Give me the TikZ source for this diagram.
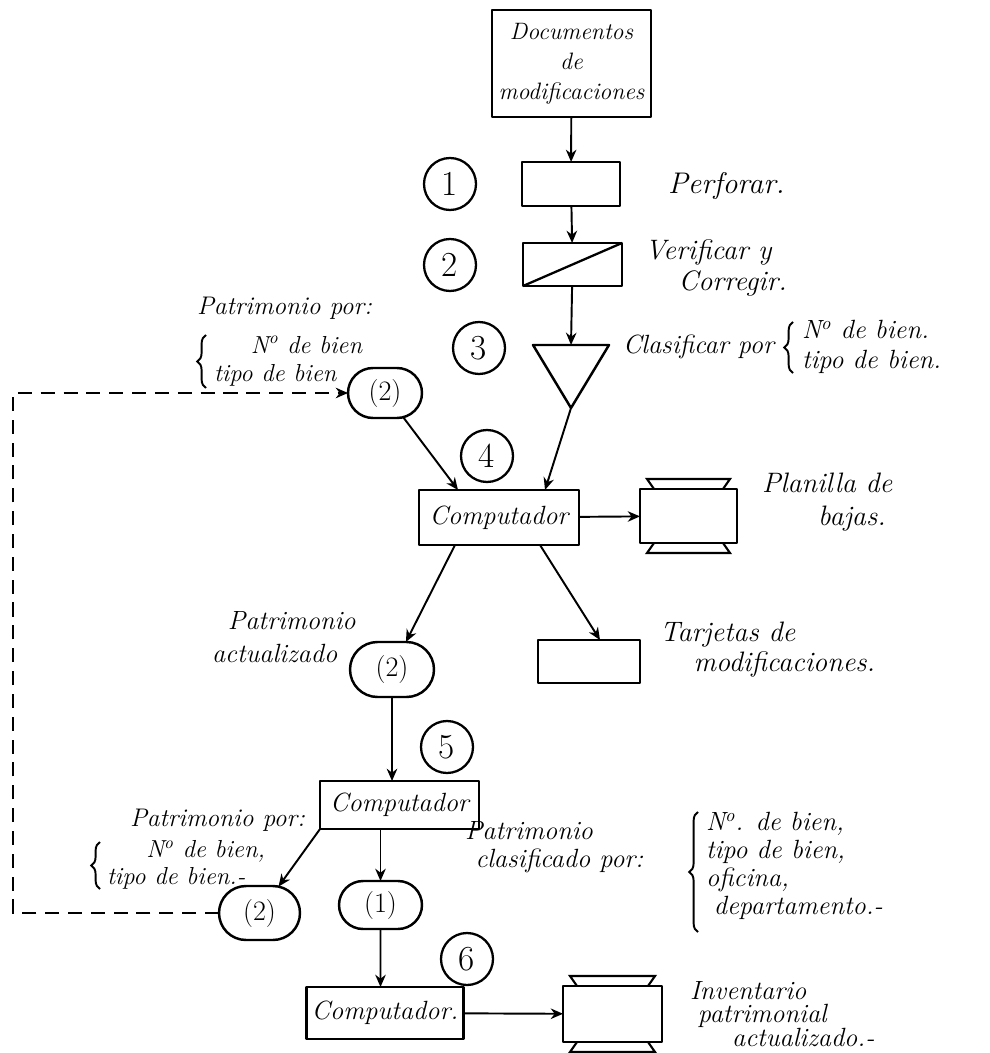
\documentclass[tikz,border=0pt]{standalone}
\usetikzlibrary{arrows.meta,calc,shapes.misc,decorations.pathreplacing}
% paper trays above and below a printer body node
\newcommand\papertrays[1]{%
  \draw[line width=1.2pt] ($(#1.north west)+(14,0)$) -- ($(#1.north west)+(7,-10)$)
    -- ($(#1.north east)+(-7,-10)$) -- ($(#1.north east)+(-14,0)$);
  \draw[line width=1.2pt] ($(#1.south west)+(14,0)$) -- ($(#1.south west)+(7,10)$)
    -- ($(#1.south east)+(-7,10)$) -- ($(#1.south east)+(-14,0)$);}
\begin{document}
\begin{tikzpicture}[x=0.02cm,y=-0.02cm,
  every node/.style={inner sep=0pt, outer sep=0pt},
  fs/.style 2 args={font=\fontsize{#1}{#2}\selectfont\itshape},
  shp/.style={draw, line width=1.4pt, line join=round},
  box/.style={shp, rectangle, align=center, fs={15}{18}},
  term/.style={shp, rounded rectangle, font=\fontsize{16}{18}\selectfont},
  num/.style={draw, circle, line width=1.3pt, minimum size=1.04cm, font=\fontsize{20}{20}\selectfont},
  lbl/.style={anchor=west, align=left, fs={15}{17}},
  brc/.style={decorate, decoration={brace, amplitude=5pt}, line width=1.1pt},
  arr/.style={line width=1.1pt, -{Stealth[length=7pt,width=6pt]}},
  fb/.style={arr, dash pattern=on 8pt off 5pt}]
\useasboundingbox (0,0) rectangle (989,1053);

% main column of processing steps
\node[box, minimum width=3.18cm, minimum height=2.14cm, fs={13.5}{17}] (docs) at (571.5,63.5) {Documentos\\de\\modificaciones};
\node[shp, minimum width=1.96cm, minimum height=0.88cm] (perf) at (571,184) {};
\node[shp, minimum width=1.98cm, minimum height=0.86cm] (verif) at (572.5,264.5) {};
\draw[line width=1.3pt] (verif.south west) -- (verif.north east);
\coordinate (trileft) at (533,345);
\coordinate (triright) at (609,345);
\coordinate (tritop) at (571,345);
\coordinate (triapex) at (571,408);
\draw[shp] (trileft) -- (triright) -- (triapex) -- cycle;

\node[box, minimum width=3.2cm, minimum height=1.1cm] (comp4) at (499,517.5) {Computador};
\node[shp, minimum width=1.94cm, minimum height=1.08cm] (pr1) at (688.5,516) {};
\papertrays{pr1}
\node[shp, chamfered rectangle, chamfered rectangle corners=north west,
      chamfered rectangle xsep=2pt, chamfered rectangle ysep=2pt,
      minimum width=2.04cm, minimum height=0.86cm] (card) at (589,661.5) {};

\node[term, minimum width=1.48cm, minimum height=1.0cm] (t2a) at (385,393) {(2)};
\node[term, minimum width=1.68cm, minimum height=1.1cm] (t2b) at (392,669.5) {(2)};
\node[box, minimum width=3.18cm, minimum height=0.96cm] (comp5) at (399.5,805) {Computador};
\node[term, minimum width=1.62cm, minimum height=1.08cm] (t2c) at (259.5,913) {(2)};
\node[term, minimum width=1.66cm, minimum height=0.96cm] (t1) at (380.5,905) {(1)};
\node[box, minimum width=3.14cm, minimum height=1.04cm] (comp6) at (385,1013) {Computador.};
\node[shp, minimum width=1.98cm, minimum height=1.12cm] (pr2) at (612.5,1014) {};
\papertrays{pr2}

% step numbers
\node[num] (n1) at (450,184) {1};
\node[num] (n2) at (450,265) {2};
\node[num] (n3) at (479,348) {3};
\node[num] (n4) at (487,456) {4};
\node[num] (n5) at (447,747) {5};
\node[num] (n6) at (467,959) {6};

% annotations
\node[lbl, fs={17}{19}] (lperf) at (668,186) {Perforar.};
\node[lbl, fs={16}{18}] (lverif) at (645,268) {Verificar y\\\hspace{1.2em}Corregir.};

\node[lbl] (lclas) at (623,347) {Clasificar por};
\draw[brc] (793,373) coordinate (bc1b) -- (793,322) coordinate (bc1t);
\node[lbl, fs={15}{17}] (lclasb) at (802,347) {N\textsuperscript{o} de bien.\\tipo de bien.};

\node[lbl, fs={14.5}{16}] (lpat1) at (197,308) {Patrimonio por:};
\draw[brc] (206,388) coordinate (bc2b) -- (206,335) coordinate (bc2t);
\node[lbl, fs={14}{16}] (lpat1b) at (214,361) {\hspace{1.5em}N\textsuperscript{o} de bien\\tipo de bien};

\node[lbl, fs={16}{19}] (lplan) at (762,502) {Planilla de\\\hspace{2em}bajas.};
\node[lbl, fs={16}{17}] (ltarj) at (660,650) {Tarjetas de\\\hspace{1.2em}modificaciones.};
\node[lbl, fs={15}{19}] (lact) at (212,637) {\hspace{0.6em}Patrimonio\\actualizado};

\node[lbl, fs={14.5}{16}] (lpat2) at (130,820) {Patrimonio por:};
\draw[brc] (100,889) coordinate (bc3b) -- (100,842) coordinate (bc3t);
\node[lbl, fs={14}{15}] (lpat2b) at (107,865) {\hspace{1.6em}N\textsuperscript{o} de bien,\\tipo de bien.-};

\node[lbl, fs={15}{16}] (lclasif) at (465,847) {Patrimonio\\\hspace{0.4em}clasificado por:};
\draw[brc] (698,932) coordinate (bc4b) -- (698,812) coordinate (bc4t);
\node[lbl, fs={15}{16}] (llist) at (706,866) {N\textsuperscript{o}. de bien,\\tipo de bien,\\oficina,\\\hspace{0.3em}departamento.-};

\node[lbl, fs={15}{13.5}] (linv) at (690,1014) {Inventario\\\hspace{0.3em}patrimonial\\\hspace{1.6em}actualizado.-};

% connectors
\draw[arr] (docs) -- (perf);
\draw[arr] (perf) -- (verif);
\draw[arr] (verif) -- (tritop);
\draw[arr] (triapex) -- ($(comp4.north)+(46,0)$);
\draw[arr] (t2a) -- ($(comp4.north)+(-41,0)$);
\draw[arr] (comp4) -- (pr1);
\draw[arr] ($(comp4.south)+(-44,0)$) -- (t2b);
\draw[arr] ($(comp4.south)+(41,0)$) -- ($(card.north)+(11,0)$);
\draw[arr] (t2b.south) -- (t2b.south |- comp5.north);
\draw[arr] (comp5.south west) -- (t2c);
\draw[arr] (t1.north |- comp5.south) -- (t1.north);
\draw[arr] (t1) -- (t1.south |- comp6.north);
\draw[arr] (comp6) -- (pr2);
\coordinate (fbcorner) at (13,913);
\draw[fb] (t2c.west) -- (fbcorner) |- (t2a.west);
\end{tikzpicture}
\end{document}
